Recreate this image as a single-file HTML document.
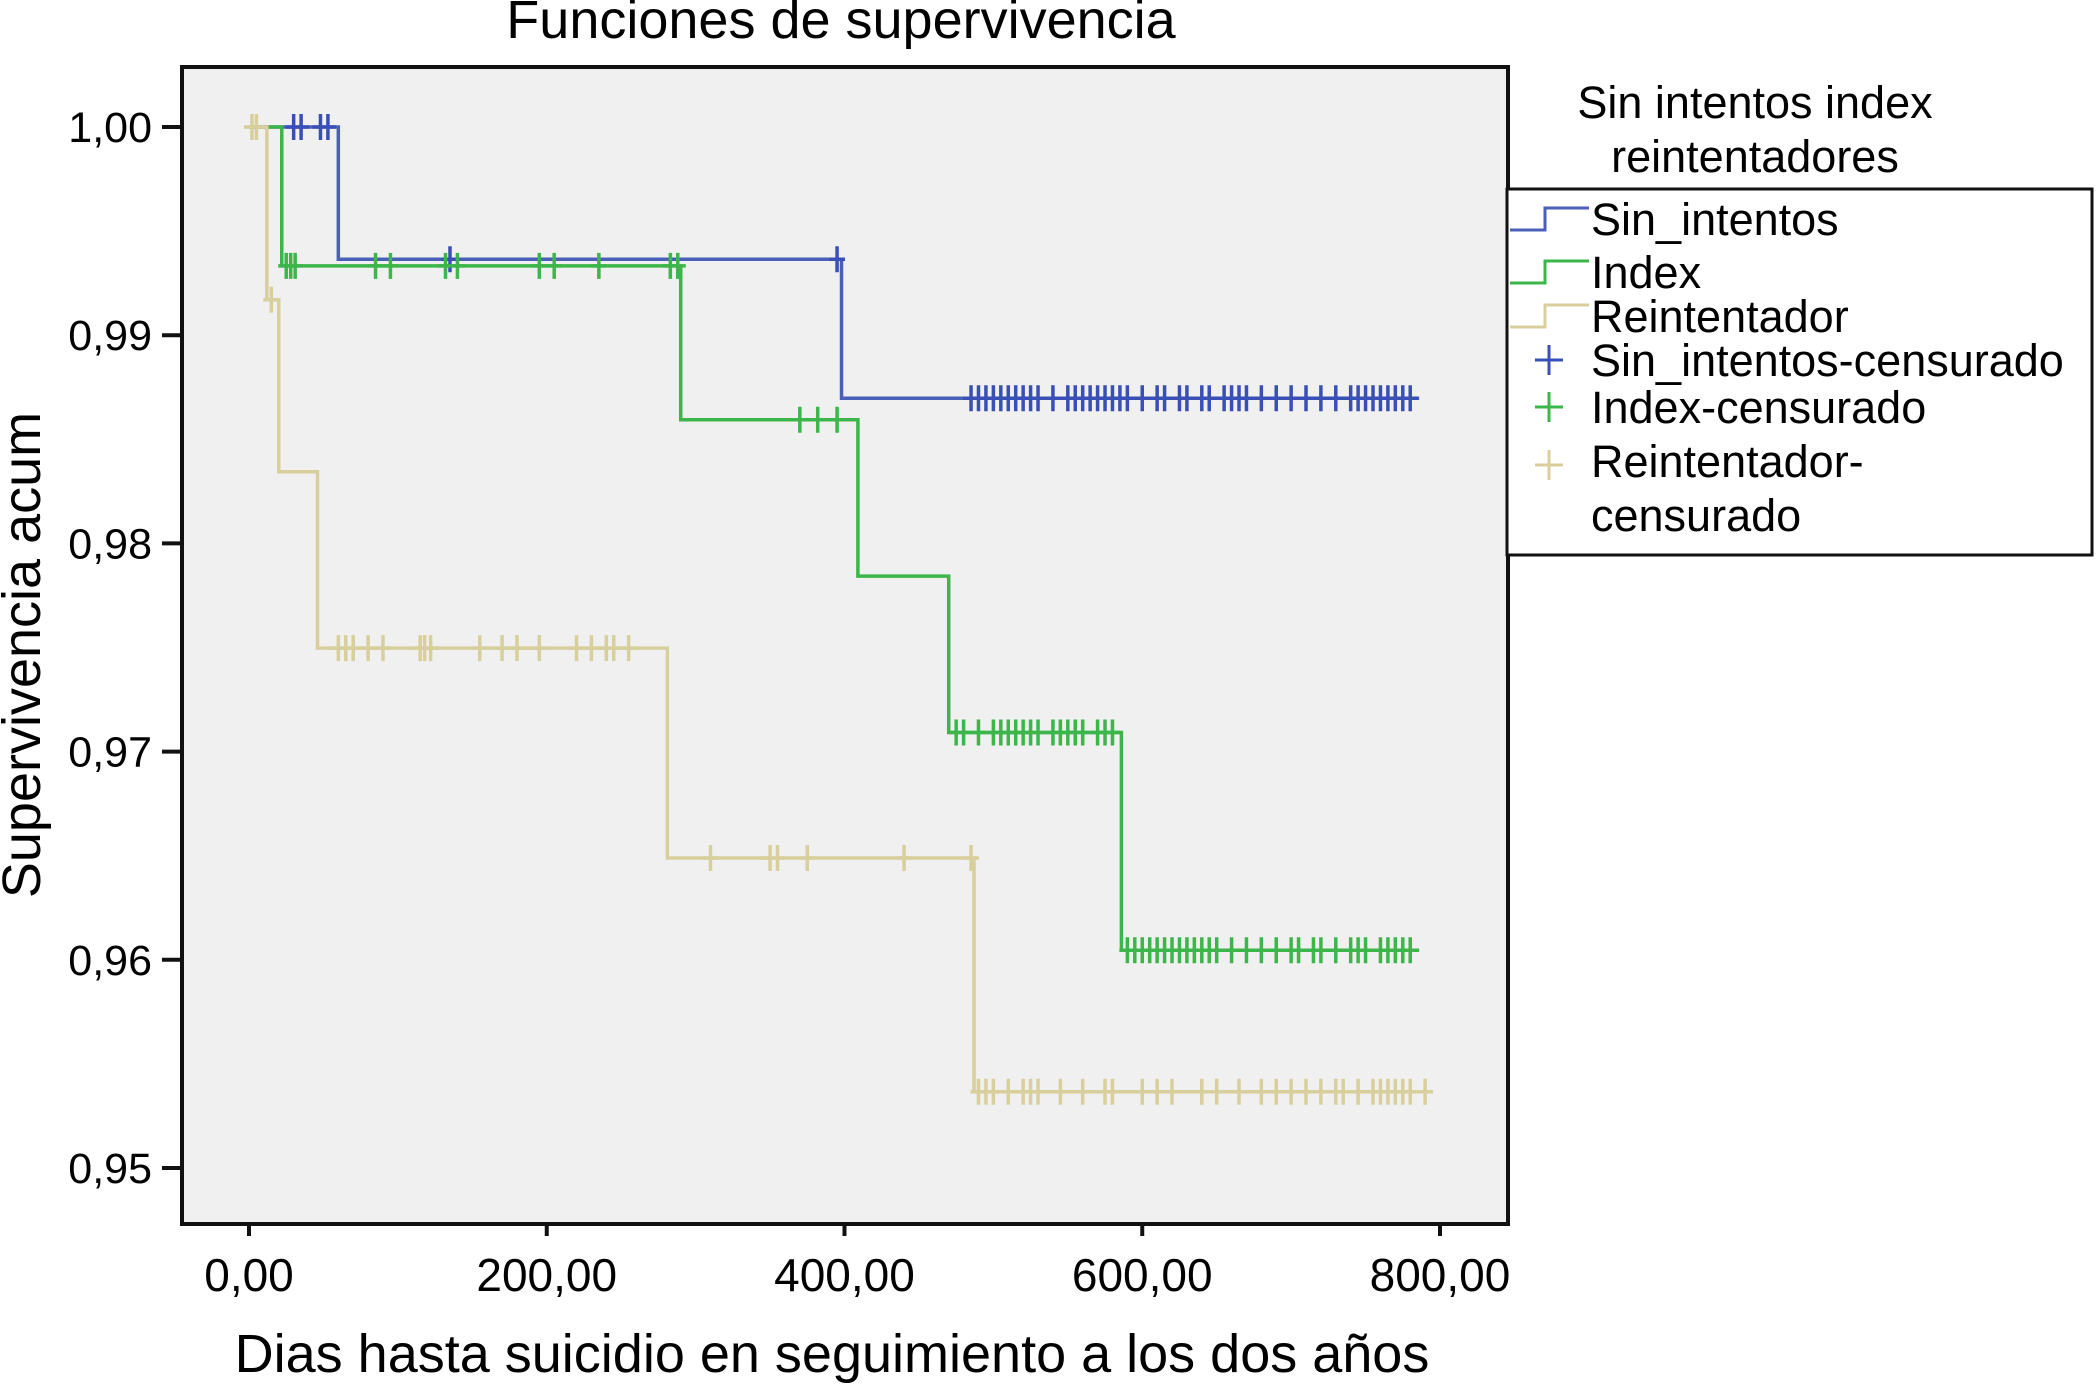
<!DOCTYPE html>
<html><head><meta charset="utf-8"><style>
html,body{margin:0;padding:0;background:#fff;}
svg{display:block;font-family:"Liberation Sans",sans-serif;}
</style></head><body>
<svg id="chart" width="2096" height="1386" viewBox="0 0 2096 1386" xmlns="http://www.w3.org/2000/svg">
<rect x="0" y="0" width="2096" height="1386" fill="#fff"/>
<text x="841" y="38" font-size="54" text-anchor="middle">Funciones de supervivencia</text>
<rect x="182" y="67" width="1326" height="1157" fill="#f0f0f0" stroke="#111" stroke-width="4"/>
<g id="series"></g>
<g id="axes"></g>
<text x="832" y="1372" font-size="54" text-anchor="middle">Dias hasta suicidio en seguimiento a los dos años</text>
<text transform="translate(40,655) rotate(-90)" font-size="54" text-anchor="middle">Supervivencia acum</text>
<g>
<text x="1755" y="118" font-size="45" text-anchor="middle">Sin intentos index</text>
<text x="1755" y="172" font-size="45" text-anchor="middle">reintentadores</text>
<rect x="1507" y="189" width="585" height="366" fill="#fff" stroke="#111" stroke-width="3"/>
<path d="M1510 230 H1545 V208 H1589" fill="none" stroke="#4a5fb8" stroke-width="3"/>
<path d="M1510 283 H1545 V261 H1589" fill="none" stroke="#3cb64a" stroke-width="3"/>
<path d="M1510 327 H1545 V305 H1589" fill="none" stroke="#d8cf9c" stroke-width="3"/>
<path d="M1549 345 V375 M1535 360 H1563" stroke="#3a4fb5" stroke-width="3"/>
<path d="M1549 392 V422 M1535 407 H1563" stroke="#3cb64a" stroke-width="3"/>
<path d="M1549 450 V480 M1535 465 H1563" stroke="#d8cf9c" stroke-width="3"/>
<text x="1591" y="235" font-size="45">Sin_intentos</text>
<text x="1591" y="288" font-size="45">Index</text>
<text x="1591" y="332" font-size="45">Reintentador</text>
<text x="1591" y="376" font-size="45">Sin_intentos-censurado</text>
<text x="1591" y="423" font-size="45">Index-censurado</text>
<text x="1591" y="477" font-size="45">Reintentador-</text>
<text x="1591" y="531" font-size="45">censurado</text>
</g>
</svg>
<script>
const xTicks = [0, 200, 400, 600, 800];
const xTickLabels = ["0,00", "200,00", "400,00", "600,00", "800,00"];
const yTicks = [0.95, 0.96, 0.97, 0.98, 0.99, 1.00];
const yTickLabels = ["0,95", "0,96", "0,97", "0,98", "0,99", "1,00"];

const sinTimes = [0, 60, 398, 786];
const sinSurv = [1.0, 0.99365, 0.98697, 0.98697];
const indexTimes = [0, 22, 290, 409, 470, 586, 786];
const indexSurv = [1.0, 0.99333, 0.98594, 0.97843, 0.97092, 0.96046, 0.96046];
const reinTimes = [0, 12, 20, 46, 281, 487, 790];
const reinSurv = [1.0, 0.9917, 0.98344, 0.97497, 0.96489, 0.95366, 0.95366];

const sinCensor = [30, 35, 48, 53, 135, 395, 485, 490, 495, 500, 505, 510, 515, 520, 525, 530, 540, 550, 555, 560, 565, 570, 575, 580, 585, 590, 600, 610, 615, 625, 630, 640, 645, 655, 660, 665, 670, 680, 690, 700, 710, 720, 730, 740, 745, 750, 755, 760, 765, 770, 775, 780];
const indexCensor = [25, 28, 31, 85, 95, 132, 140, 195, 205, 235, 283, 288, 370, 382, 395, 475, 480, 490, 500, 505, 510, 515, 520, 525, 530, 540, 545, 550, 555, 560, 570, 575, 580, 590, 595, 600, 605, 610, 615, 620, 625, 630, 635, 640, 645, 650, 660, 670, 680, 690, 700, 705, 715, 720, 730, 740, 745, 750, 760, 765, 770, 775, 780];
const reinCensor = [2, 5, 15, 60, 65, 70, 80, 90, 115, 118, 122, 155, 170, 180, 195, 220, 230, 240, 245, 255, 310, 350, 355, 375, 440, 485, 490, 495, 500, 510, 520, 525, 530, 545, 560, 575, 580, 600, 610, 620, 640, 650, 665, 680, 690, 700, 710, 720, 730, 735, 745, 755, 760, 765, 770, 775, 780, 790];

const X0 = 249, X800 = 1440, Y100 = 127, Y095 = 1168;
function xs(v){ return X0 + (v / 800) * (X800 - X0); }
function ys(v){ return Y100 + (1.0 - v) / 0.05 * (Y095 - Y100); }
const NS = "http://www.w3.org/2000/svg";
const series = document.getElementById('series');
const axes = document.getElementById('axes');

function drawStep(times, surv, color, name){
  let d = "M" + xs(times[0]) + " " + ys(surv[0]);
  for (let i = 1; i < times.length; i++){
    d += " H" + xs(times[i]) + " V" + ys(surv[i]);
  }
  const p = document.createElementNS(NS, 'path');
  
  
  p.setAttribute('d', d);
  p.setAttribute('fill', 'none');
  p.setAttribute('stroke', color);
  p.setAttribute('stroke-width', '3.5');
  series.appendChild(p);
}
function survAt(times, surv, t){
  let s = surv[0];
  for (let i = 0; i < times.length; i++){ if (t >= times[i]) s = surv[i]; }
  return s;
}
function drawCensor(list, times, surv, color, name){
  const g = document.createElementNS(NS, 'g');
  
  
  let d = "";
  list.forEach(t => {
    const x = xs(t), y = ys(survAt(times, surv, t));
    d += "M" + x + " " + (y - 13) + " V" + (y + 13) + " M" + (x - 8) + " " + y + " H" + (x + 8) + " ";
  });
  const p = document.createElementNS(NS, 'path');
  
  
  p.setAttribute('d', d);
  p.setAttribute('stroke', color);
  p.setAttribute('stroke-width', '3.5');
  g.appendChild(p);
  series.appendChild(g);
}
drawStep(sinTimes, sinSurv, '#4a5fb8', 'sin-intentos-line');
drawStep(indexTimes, indexSurv, '#3cb64a', 'index-line');
drawStep(reinTimes, reinSurv, '#d8cf9c', 'reintentador-line');
drawCensor(sinCensor, sinTimes, sinSurv, '#3a4fb5', 'sin-intentos-censored');
drawCensor(indexCensor, indexTimes, indexSurv, '#3cb64a', 'index-censored');
drawCensor(reinCensor, reinTimes, reinSurv, '#d8cf9c', 'reintentador-censored');

xTicks.forEach((v, i) => {
  const l = document.createElementNS(NS, 'line');
  
  
  l.setAttribute('x1', xs(v)); l.setAttribute('x2', xs(v));
  l.setAttribute('y1', 1224); l.setAttribute('y2', 1236);
  l.setAttribute('stroke', '#111'); l.setAttribute('stroke-width', '4');
  axes.appendChild(l);
  const t = document.createElementNS(NS, 'text');
  
  
  t.setAttribute('x', xs(v)); t.setAttribute('y', 1291);
  t.setAttribute('font-size', '46'); t.setAttribute('text-anchor', 'middle');
  t.textContent = xTickLabels[i];
  axes.appendChild(t);
});
yTicks.forEach((v, i) => {
  const l = document.createElementNS(NS, 'line');
  
  
  l.setAttribute('x1', 162); l.setAttribute('x2', 182);
  l.setAttribute('y1', ys(v)); l.setAttribute('y2', ys(v));
  l.setAttribute('stroke', '#111'); l.setAttribute('stroke-width', '4');
  axes.appendChild(l);
  const t = document.createElementNS(NS, 'text');
  
  
  t.setAttribute('x', 152); t.setAttribute('y', ys(v) + 15);
  t.setAttribute('font-size', '43'); t.setAttribute('text-anchor', 'end');
  t.textContent = yTickLabels[i];
  axes.appendChild(t);
});
</script>
</body></html>
